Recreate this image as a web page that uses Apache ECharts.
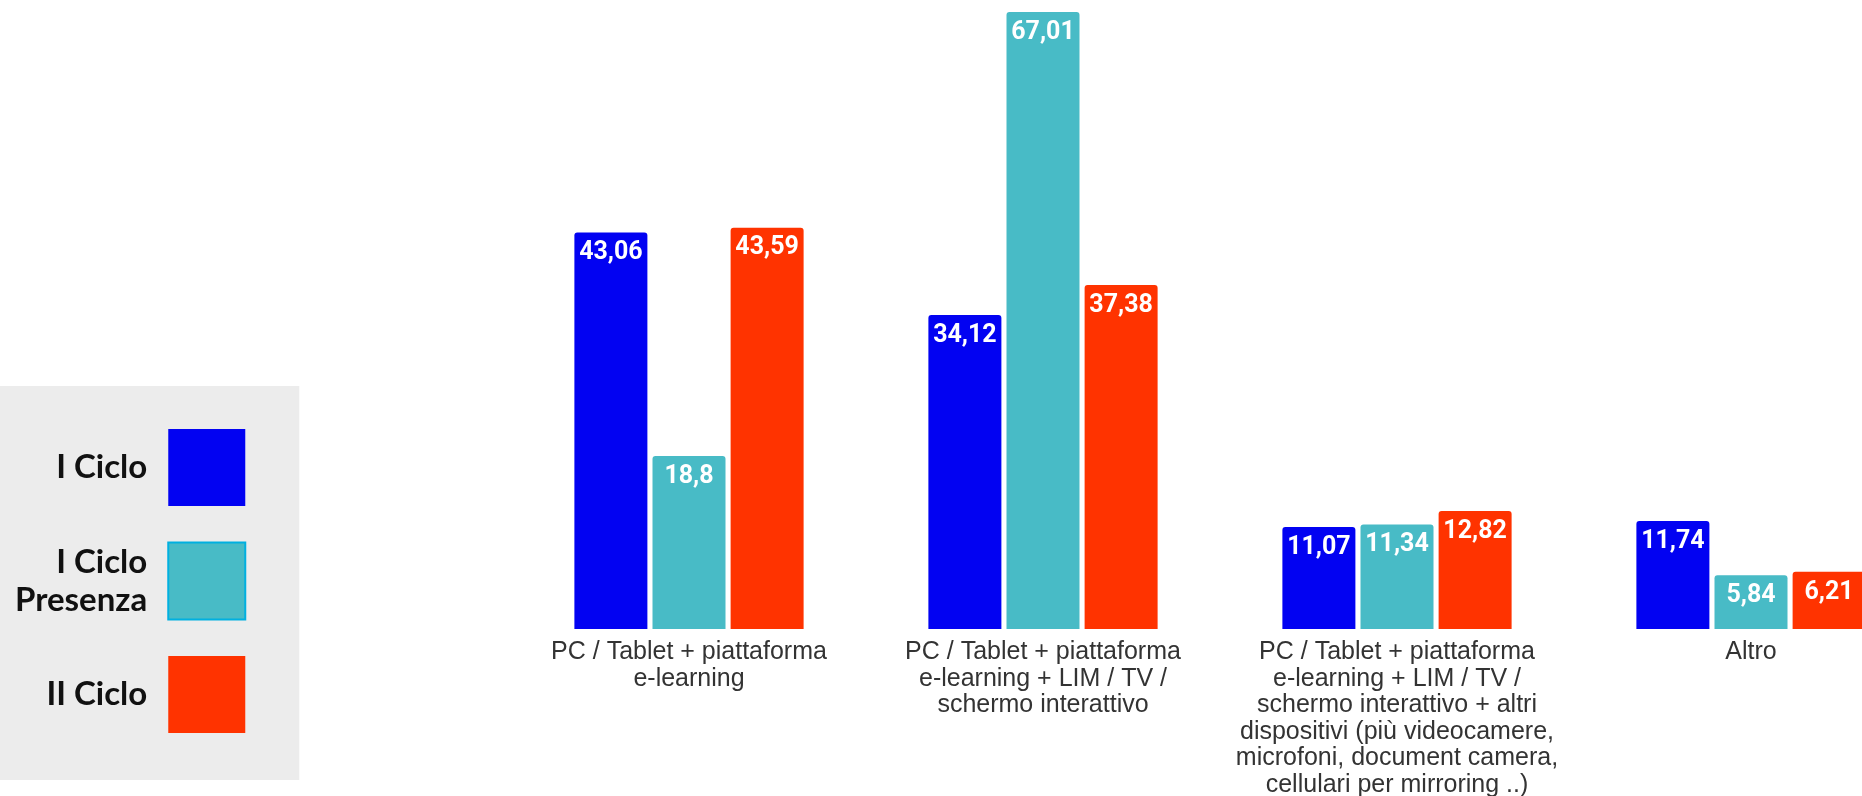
<!DOCTYPE html>
<html>
<head>
<meta charset="utf-8">
<script src="https://cdn.jsdelivr.net/npm/echarts@6/dist/echarts.min.js"></script>
<style>
  html, body { margin: 0; padding: 0; background: #ffffff; }
  #chart { width: 1862px; height: 796px; }
</style>
</head>
<body>
<div id="chart"></div>
<script>
const categories = [
  'PC / Tablet + piattaforma\ne-learning',
  'PC / Tablet + piattaforma\ne-learning + LIM / TV /\nschermo interattivo',
  'PC / Tablet + piattaforma\ne-learning + LIM / TV /\nschermo interattivo + altri\ndispositivi (più videocamere,\nmicrofoni, document camera,\ncellulari per mirroring ..)',
  'Altro'
];
const seriesNames = ['I Ciclo', 'I Ciclo\nPresenza', 'II Ciclo'];
const iCiclo = [43.06, 34.12, 11.07, 11.74];
const iCicloPresenza = [18.8, 67.01, 11.34, 5.84];
const iiCiclo = [43.59, 37.38, 12.82, 6.21];
const seriesColors = ['#0202f2', '#48bbc6', '#ff3300'];

const chart = echarts.init(document.getElementById('chart'), null, { renderer: 'canvas' });

const labelCfg = {
  show: true,
  position: 'insideTop',
  distance: 8,
  color: '#ffffff',
  fontFamily: 'Roboto',
  fontWeight: 'bold',
  fontSize: 25,
  formatter: (p) => String(p.value).replace('.', ',')
};

function makeSeries(name, data, color) {
  return {
    name: name,
    type: 'bar',
    data: data,
    barWidth: 73,
    barGap: '7%',
    itemStyle: { color: color, borderRadius: [3, 3, 0, 0] },
    label: labelCfg,
    emphasis: { disabled: true },
    animation: false
  };
}

chart.setOption({
  backgroundColor: '#ffffff',
  animation: false,
  grid: { left: 512, width: 1416, top: 3, bottom: 167, containLabel: false, outerBoundsMode: 'none' },
  legend: {
    orient: 'vertical',
    left: -25,
    top: 386,
    align: 'right',
    icon: 'rect',
    itemWidth: 77,
    itemHeight: 77,
    itemGap: 35.5,
    selectedMode: false,
    backgroundColor: '#ececec',
    padding: [43, 53, 47, 40],
    textStyle: {
      fontFamily: 'Lato',
      fontWeight: 'bold',
      fontSize: 33,
      lineHeight: 38,
      color: '#111111',
      padding: [0, 16, 0, 0]
    },
    data: [
      { name: seriesNames[0] },
      { name: seriesNames[1], itemStyle: { borderColor: '#00b0e0', borderWidth: 2 } },
      { name: seriesNames[2] }
    ]
  },
  xAxis: {
    type: 'category',
    data: categories,
    axisLine: { show: false },
    axisTick: { show: false },
    axisLabel: {
      interval: 0,
      margin: 10,
      color: '#333333',
      fontFamily: 'Liberation Sans',
      fontSize: 25,
      lineHeight: 26.5
    }
  },
  yAxis: {
    type: 'value',
    min: 0,
    max: 68,
    show: false,
    splitLine: { show: false }
  },
  series: [
    makeSeries(seriesNames[0], iCiclo, seriesColors[0]),
    makeSeries(seriesNames[1], iCicloPresenza, seriesColors[1]),
    makeSeries(seriesNames[2], iiCiclo, seriesColors[2])
  ]
});
</script>
</body>
</html>
